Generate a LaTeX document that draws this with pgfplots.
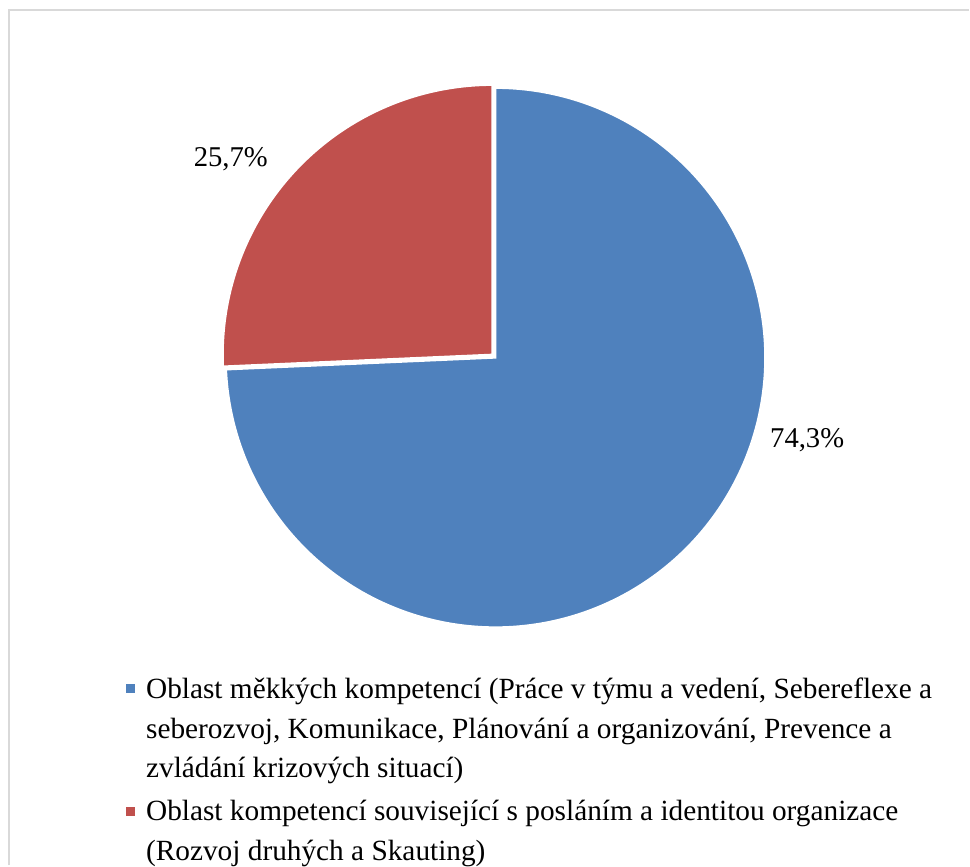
\documentclass[border=0pt]{standalone}
\usepackage{pgfplots}
\pgfplotsset{compat=1.18}
\usepackage{fontspec}
\setmainfont{Liberation Serif}
\definecolor{cblue}{HTML}{4F81BD}
\definecolor{cred}{HTML}{C0504D}
\definecolor{cframe}{HTML}{D9D9D9}
% data (percent)
\def\valA{74.3}
\def\valB{25.7}
\begin{document}
\begin{tikzpicture}
\pgfmathsetmacro{\angA}{3.6*\valA}
\pgfmathsetmacro{\angB}{3.6*\valB}
\pgfmathsetmacro{\startA}{90-\angA}
\pgfmathsetmacro{\endB}{90+\angB}
\begin{axis}[
  x=0.75pt, y=0.75pt,
  xmin=0, xmax=970, ymin=0, ymax=866,
  hide axis, clip=false,
  axis line style={draw=none},
]
\path (axis cs:0,0) rectangle (axis cs:970,866);
\draw[cframe, line width=1.5pt] (axis cs:9.5,0) -- (axis cs:9.5,855.5) -- (axis cs:970,855.5);
% blue slice
\addplot[fill=cblue, draw=white, line width=1.5pt, domain=\startA:90, samples=240, smooth]
  ({496+270*cos(x)},{508+270*sin(x)}) -- (axis cs:496,508) -- cycle;
% red slice (slightly exploded)
\addplot[fill=cred, draw=white, line width=1.5pt, domain=90:\endB, samples=120, smooth]
  ({493+270*cos(x)},{511+270*sin(x)}) -- (axis cs:493,511) -- cycle;
% data labels
\node[font=\fontsize{21.5}{26}\selectfont] at (axis cs:231,707) {25,7\%};
\node[font=\fontsize{21.5}{26}\selectfont] at (axis cs:808,425) {74,3\%};
% legend
\fill[cblue] (axis cs:126,181) rectangle (axis cs:135,172);
\fill[cred] (axis cs:126,58) rectangle (axis cs:135,49);
\begin{scope}[every node/.style={anchor=base west, inner sep=0pt, font=\fontsize{22}{27}\selectfont}]
\node at (axis cs:146,167) {Oblast měkkých kompetencí (Práce v týmu a vedení, Sebereflexe a};
\node at (axis cs:146,127) {seberozvoj, Komunikace, Plánování a organizování, Prevence a};
\node at (axis cs:146,88) {zvládání krizových situací)};
\node at (axis cs:146,45) {Oblast kompetencí související s posláním a identitou organizace};
\node at (axis cs:146,5) {(Rozvoj druhých a Skauting)};
\end{scope}
\end{axis}
\end{tikzpicture}
\end{document}
